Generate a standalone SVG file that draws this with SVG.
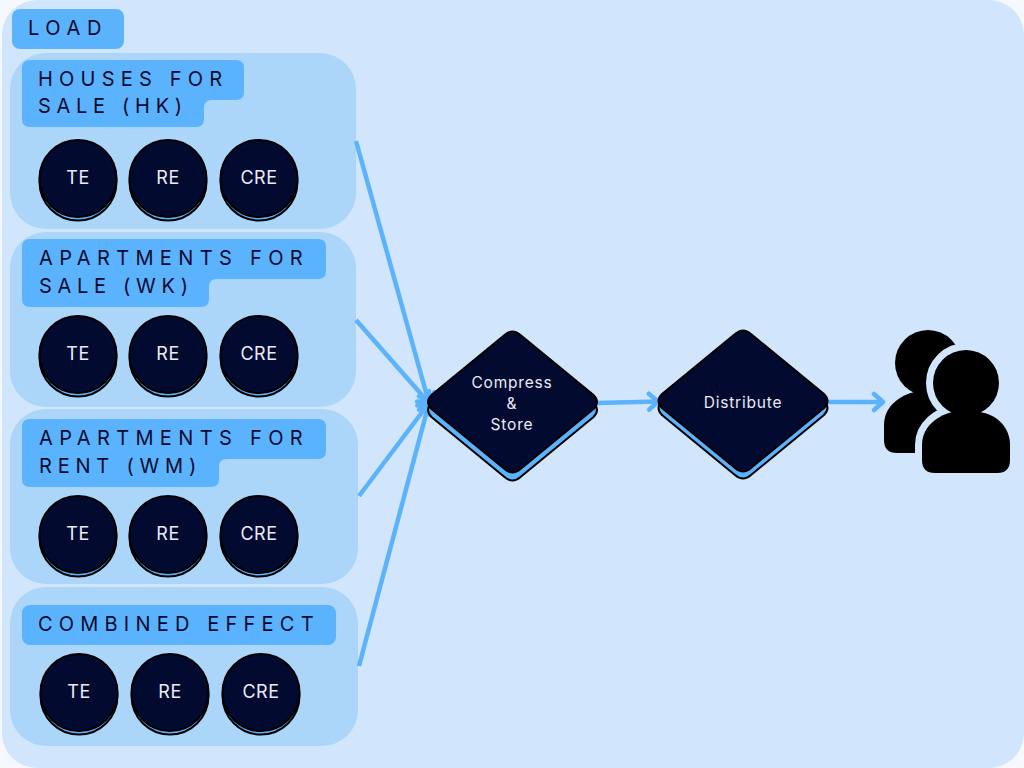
<svg xmlns="http://www.w3.org/2000/svg" width="1024" height="768" viewBox="0 0 1024 768">
<style>
.panel{fill:#abd6fa}
.pill{fill:#5cb3fd}
.ptext{font-family:"Inter","Liberation Sans",sans-serif;font-size:20px;letter-spacing:6.2px;fill:#030a30}
.l2{letter-spacing:5.7px}
.l3{letter-spacing:6.35px}
.ctext{font-family:"Inter","Liberation Sans",sans-serif;font-size:18px;letter-spacing:.5px;fill:#e8ecf6;text-anchor:middle}
.dtext{font-family:"Inter","Liberation Sans",sans-serif;font-size:15.5px;letter-spacing:.8px;fill:#e8ecf6;text-anchor:middle}
.top{fill:#030a30;stroke:#000;stroke-width:2}
.under{fill:#5cb3fd;stroke:#000;stroke-width:2}
.conn{fill:none;stroke:#5cb3fd;stroke-width:4.5}
</style>
<defs>
<marker id="arrow" markerUnits="userSpaceOnUse" markerWidth="18" markerHeight="22" refX="14" refY="11" orient="auto">
<path d="M5,3 L14,11 L5,19" fill="none" stroke="#5cb3fd" stroke-width="4.5" stroke-linecap="round" stroke-linejoin="round"/>
</marker>
<g id="badge">
<circle class="under" cx="0" cy="4" r="38.5"/>
<circle class="top" cx="0" cy="0.5" r="38.5"/>
</g>
<path id="dm" d="M-81,-7 L-8,-67 Q0,-74 8,-67 L81,-7 Q88,0 81,7 L8,67 Q0,74 -8,67 L-81,7 Q-88,0 -81,-7 Z"/>
</defs>
<rect width="1024" height="768" fill="#f5f8fe"/>
<rect x="2" y="0" width="1022" height="768" rx="35" fill="#d1e6fc"/>
<g id="load"><rect class="pill" x="12" y="9" width="112" height="40" rx="8"/><text class="ptext" x="28" y="35" style="letter-spacing:6.6px">LOAD</text></g>
<g id="panel-houses">
<rect class="panel" x="10" y="53" width="346" height="176" rx="36"/>
<path class="pill" d="M30,60 H236 Q244,60 244,68 V92 Q244,100 236,100 H212 Q204,100 204,108 V119 Q204,127 196,127 H30 Q22,127 22,119 V68 Q22,60 30,60 Z"/>
<text class="ptext" x="38" y="86">HOUSES FOR</text><text class="ptext l2" x="38" y="113">SALE (HK)</text>
<use href="#badge" x="78" y="178"/><use href="#badge" x="168" y="178"/><use href="#badge" x="259" y="178"/>
<text class="ctext" x="78" y="184">TE</text><text class="ctext" x="168" y="184">RE</text><text class="ctext" x="259" y="184">CRE</text>
</g>
<g id="panel-apartments-sale">
<rect class="panel" x="10" y="232" width="346" height="175" rx="36"/>
<path class="pill" d="M30,239 H318 Q326,239 326,247 V271 Q326,279 318,279 H217 Q209,279 209,287 V299 Q209,307 201,307 H30 Q22,307 22,299 V247 Q22,239 30,239 Z"/>
<text class="ptext l3" x="39" y="265">APARTMENTS FOR</text><text class="ptext l2" x="39" y="293">SALE (WK)</text>
<use href="#badge" x="78" y="354"/><use href="#badge" x="168" y="354"/><use href="#badge" x="259" y="354"/>
<text class="ctext" x="78" y="360">TE</text><text class="ctext" x="168" y="360">RE</text><text class="ctext" x="259" y="360">CRE</text>
</g>
<g id="panel-apartments-rent">
<rect class="panel" x="10" y="409" width="348" height="175" rx="36"/>
<path class="pill" d="M30,419 H318 Q326,419 326,427 V451 Q326,459 318,459 H227 Q219,459 219,467 V479 Q219,487 211,487 H30 Q22,487 22,479 V427 Q22,419 30,419 Z"/>
<text class="ptext l3" x="39" y="445">APARTMENTS FOR</text><text class="ptext" x="39" y="473" style="letter-spacing:5.8px">RENT (WM)</text>
<use href="#badge" x="78" y="534"/><use href="#badge" x="168" y="534"/><use href="#badge" x="259" y="534"/>
<text class="ctext" x="78" y="540">TE</text><text class="ctext" x="168" y="540">RE</text><text class="ctext" x="259" y="540">CRE</text>
</g>
<g id="panel-combined">
<rect class="panel" x="10" y="587" width="348" height="159" rx="36"/>
<rect class="pill" x="22" y="605" width="314" height="40" rx="8"/>
<text class="ptext" x="38" y="631">COMBINED EFFECT</text>
<use href="#badge" x="79" y="692"/><use href="#badge" x="170" y="692"/><use href="#badge" x="261" y="692"/>
<text class="ctext" x="79" y="698">TE</text><text class="ctext" x="170" y="698">RE</text><text class="ctext" x="261" y="698">CRE</text>
</g>
<g id="connectors">
<line class="conn" x1="356" y1="141" x2="429" y2="403" marker-end="url(#arrow)"/>
<line class="conn" x1="356" y1="320" x2="429" y2="403" marker-end="url(#arrow)"/>
<line class="conn" x1="359" y1="496" x2="429" y2="403" marker-end="url(#arrow)"/>
<line class="conn" x1="359" y1="666" x2="429" y2="403" marker-end="url(#arrow)"/>
<line class="conn" x1="597" y1="403" x2="658" y2="401.5" marker-end="url(#arrow)"/>
<line class="conn" x1="828" y1="402" x2="883" y2="402" marker-end="url(#arrow)"/>
</g>
<g id="compress">
<use href="#dm" x="512.5" y="410" class="under"/>
<use href="#dm" x="512.5" y="402" class="top"/>
<text class="dtext" x="512" y="388">Compress</text><text class="dtext" x="512" y="409">&amp;</text><text class="dtext" x="512" y="430">Store</text>
</g>
<g id="distribute">
<use href="#dm" x="743" y="408" class="under"/>
<use href="#dm" x="743" y="401" class="top"/>
<text class="dtext" x="743" y="408">Distribute</text>
</g>
<g id="users">
<g fill="#000">
<circle cx="928" cy="363" r="33"/>
<path d="M897,453 Q884,453 884,440 V425 C884,405 902,395 914,392 L942,392 C960,395 972,408 972,425 V440 Q972,453 959,453 Z"/>
</g>
<g fill="#d1e6fc" stroke="#d1e6fc" stroke-width="14" stroke-linejoin="round">
<circle cx="966" cy="383" r="33"/>
<path d="M935,473 Q922,473 922,460 V445 C922,425 940,415 952,412 L980,412 C998,415 1010,428 1010,445 V460 Q1010,473 997,473 Z"/>
</g>
<g fill="#000">
<circle cx="966" cy="383" r="33"/>
<path d="M935,473 Q922,473 922,460 V445 C922,425 940,415 952,412 L980,412 C998,415 1010,428 1010,445 V460 Q1010,473 997,473 Z"/>
</g>
</g>
</svg>
